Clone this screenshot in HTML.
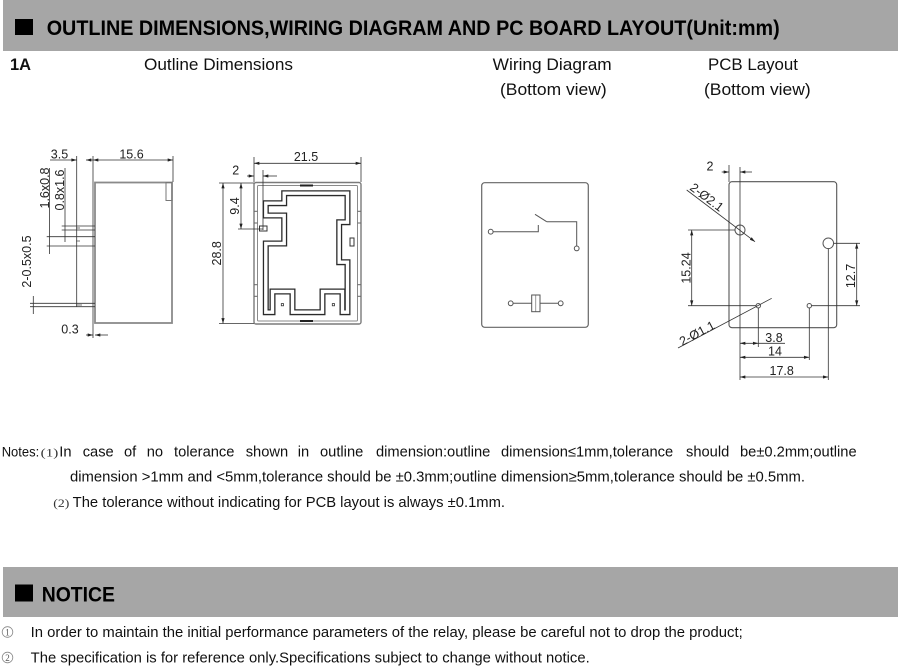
<!DOCTYPE html>
<html><head><meta charset="utf-8"><style>
html,body{margin:0;padding:0;background:#fff;}
svg{display:block;}
text{font-family:"Liberation Sans","Noto Sans CJK SC",sans-serif;fill:#111;}
.d{font-size:12.5px;fill:#222;}
.n{font-size:14.7px;}
.c{font-family:"Liberation Serif","Noto Serif CJK SC",serif;font-size:12px;fill:#333;}
</style></head><body>
<svg width="900" height="666" viewBox="0 0 900 666" xmlns="http://www.w3.org/2000/svg">
<defs>
<marker id="ar" viewBox="0 0 10 6" refX="10" refY="3" markerWidth="6" markerHeight="3.2" markerUnits="userSpaceOnUse" orient="auto-start-reverse"><path d="M0,0 L10,3 L0,6 z" fill="#222"/></marker>
</defs>
<rect x="0" y="0" width="900" height="666" fill="#fff"/>

<!-- Header bar -->
<rect x="3" y="0" width="895" height="51" fill="#a6a6a6"/>
<rect x="15" y="19" width="18" height="16" fill="#000"/>
<text x="46.7" y="35" font-size="21" font-weight="bold" textLength="733" lengthAdjust="spacingAndGlyphs" style="fill:#000">OUTLINE DIMENSIONS,WIRING DIAGRAM AND PC BOARD LAYOUT(Unit:mm)</text>

<text x="10" y="70" font-size="17" font-weight="bold" textLength="21" lengthAdjust="spacingAndGlyphs">1A</text>
<text x="144" y="70" font-size="17" textLength="149" lengthAdjust="spacingAndGlyphs">Outline Dimensions</text>
<text x="492.7" y="70" font-size="17" textLength="119" lengthAdjust="spacingAndGlyphs">Wiring Diagram</text>
<text x="708" y="70" font-size="17" textLength="90" lengthAdjust="spacingAndGlyphs">PCB Layout</text>
<text x="500" y="95" font-size="17" textLength="106.7" lengthAdjust="spacingAndGlyphs">(Bottom view)</text>
<text x="704" y="95" font-size="17" textLength="106.7" lengthAdjust="spacingAndGlyphs">(Bottom view)</text>

<!-- ===== Drawing 1: side view ===== -->
<g fill="none">
  <rect x="95" y="182.5" width="77" height="140.5" stroke="#8a8a8a" stroke-width="1.8"/>
  <rect x="166" y="182.5" width="6" height="18" stroke="#777" stroke-width="1"/>
  <g stroke="#333" stroke-width="0.8">
    <line x1="93" y1="156" x2="93" y2="338"/>
    <line x1="76.7" y1="156" x2="76.7" y2="307"/>
    <line x1="173" y1="156" x2="173" y2="182"/>
    <line x1="50" y1="160" x2="76.7" y2="160" marker-end="url(#ar)"/>
    <line x1="86" y1="160" x2="93" y2="160" marker-start="url(#ar)"/>
    <line x1="93" y1="160" x2="173" y2="160" marker-start="url(#ar)" marker-end="url(#ar)"/>
    <line x1="61.7" y1="226" x2="95" y2="226"/>
    <line x1="61.7" y1="230" x2="95" y2="230"/>
    <line x1="46.7" y1="236.7" x2="95" y2="236.7"/>
    <line x1="46.7" y1="246" x2="95" y2="246"/>
    <line x1="30" y1="303.3" x2="95" y2="303.3"/>
    <line x1="30" y1="306.7" x2="95" y2="306.7"/>
    <line x1="65" y1="168" x2="65" y2="242" />
    <line x1="49.5" y1="168" x2="49.5" y2="254"/>
    <line x1="33.3" y1="296" x2="33.3" y2="314"/>
    <line x1="86" y1="335" x2="93" y2="335" marker-end="url(#ar)"/>
    <line x1="108" y1="335" x2="95" y2="335" marker-end="url(#ar)"/>
  </g>
  <g stroke="#555" stroke-width="0.8">
    <line x1="76" y1="228" x2="80" y2="228"/>
    <line x1="76" y1="241" x2="80" y2="241"/>
    <line x1="76" y1="305" x2="82" y2="305"/>
  </g>
</g>
<text class="d" x="59.5" y="158.3" text-anchor="middle">3.5</text>
<text class="d" x="131.5" y="158.3" text-anchor="middle">15.6</text>
<text class="d" x="70" y="333.5" text-anchor="middle">0.3</text>
<text class="d" transform="translate(44.5,188) rotate(-90)" text-anchor="middle" dy="4.5">1.6x0.8</text>
<text class="d" transform="translate(59.5,190) rotate(-90)" text-anchor="middle" dy="4.5">0.8x1.6</text>
<text class="d" transform="translate(26.7,261.5) rotate(-90)" text-anchor="middle" dy="4.5">2-0.5x0.5</text>

<!-- ===== Drawing 2: bottom outline ===== -->
<g fill="none">
  <rect x="254" y="182.5" width="107" height="141.5" rx="2" stroke="#7a7a7a" stroke-width="1.4"/>
  <rect x="257.5" y="185.5" width="100" height="135.5" rx="1" stroke="#8a8a8a" stroke-width="1"/>
  <path d="M284.2,193.2 H347.5 V222.2 H339.2 V262.2 H347.5 V312.2 H342.5 V291.5 H322.5 V312.2 H292.5 V291.5 H272.5 V312.2 H265.8 V243.5 H284.2 V215.5 H265.8 V203.2 H284.2 Z" stroke="#2a2a2a" stroke-width="6"/>
  <path d="M284.2,193.2 H347.5 V222.2 H339.2 V262.2 H347.5 V312.2 H342.5 V291.5 H322.5 V312.2 H292.5 V291.5 H272.5 V312.2 H265.8 V243.5 H284.2 V215.5 H265.8 V203.2 H284.2 Z" stroke="#fff" stroke-width="3.4"/>
  <g stroke="#222" stroke-width="2">
    <line x1="300" y1="185.5" x2="313" y2="185.5"/>
    <line x1="300" y1="321" x2="313" y2="321"/>
  </g>
  <g stroke="#666" stroke-width="1">
    <line x1="254" y1="211.3" x2="257.5" y2="211.3"/>
    <line x1="254" y1="223" x2="257.5" y2="223"/>
    <line x1="254" y1="284.7" x2="257.5" y2="284.7"/>
    <line x1="254" y1="296.3" x2="257.5" y2="296.3"/>
    <line x1="357.5" y1="211.3" x2="361" y2="211.3"/>
    <line x1="357.5" y1="223" x2="361" y2="223"/>
    <line x1="357.5" y1="284.7" x2="361" y2="284.7"/>
    <line x1="357.5" y1="296.3" x2="361" y2="296.3"/>
  </g>
  <rect x="259.5" y="226" width="7.5" height="5" stroke="#333" stroke-width="1" fill="#fff"/>
  <rect x="350" y="238" width="4" height="8" stroke="#333" stroke-width="1"/>
  <rect x="281.3" y="303.6" width="2.2" height="2.2" stroke="#333" stroke-width="0.8"/>
  <rect x="332.3" y="303.6" width="2.2" height="2.2" stroke="#333" stroke-width="0.8"/>
  <g stroke="#333" stroke-width="0.8">
    <line x1="254" y1="157" x2="254" y2="182"/>
    <line x1="361" y1="157" x2="361" y2="182"/>
    <line x1="254" y1="163.3" x2="361" y2="163.3" marker-start="url(#ar)" marker-end="url(#ar)"/>
    <line x1="263" y1="170" x2="263" y2="230"/>
    <line x1="247" y1="176" x2="254" y2="176" marker-end="url(#ar)"/>
    <line x1="277" y1="176" x2="263" y2="176" marker-end="url(#ar)"/>
    <line x1="219" y1="183" x2="254" y2="183"/>
    <line x1="219" y1="323.5" x2="254" y2="323.5"/>
    <line x1="238" y1="229" x2="263" y2="229"/>
    <line x1="241" y1="183" x2="241" y2="229" marker-start="url(#ar)" marker-end="url(#ar)"/>
    <line x1="223" y1="183" x2="223" y2="323.5" marker-start="url(#ar)" marker-end="url(#ar)"/>
  </g>
</g>
<text class="d" x="306" y="161" text-anchor="middle">21.5</text>
<text class="d" x="235.7" y="174.5" text-anchor="middle">2</text>
<text class="d" transform="translate(234.5,206) rotate(-90)" text-anchor="middle" dy="4.5">9.4</text>
<text class="d" transform="translate(216.7,253.3) rotate(-90)" text-anchor="middle" dy="4.5">28.8</text>

<!-- ===== Wiring diagram ===== -->
<g fill="none" stroke="#555" stroke-width="1">
  <rect x="481.7" y="182.7" width="106.6" height="144.6" rx="3" stroke="#666" stroke-width="1.2"/>
  <circle cx="490.7" cy="231.7" r="2.4" fill="#fff"/>
  <polyline points="493.1,231.7 538.3,231.7 538.3,225"/>
  <line x1="535" y1="214.3" x2="546.7" y2="221.7"/>
  <polyline points="546.7,221.7 576.7,221.7 576.7,246"/>
  <circle cx="576.7" cy="248.4" r="2.4" fill="#fff"/>
  <circle cx="510.7" cy="303.3" r="2.4" fill="#fff"/>
  <line x1="513.1" y1="303.3" x2="531.7" y2="303.3"/>
  <rect x="531.7" y="295" width="8.3" height="16.7"/>
  <line x1="535.8" y1="295" x2="535.8" y2="311.7" stroke-width="0.6"/>
  <line x1="540" y1="303.3" x2="558.3" y2="303.3"/>
  <circle cx="560.7" cy="303.3" r="2.4" fill="#fff"/>
</g>

<!-- ===== PCB layout ===== -->
<g fill="none">
  <rect x="729" y="181.7" width="107.7" height="146" rx="3" stroke="#555" stroke-width="1.1"/>
  <circle cx="740" cy="230" r="5" stroke="#555" stroke-width="1"/>
  <circle cx="828.3" cy="243.3" r="5.3" stroke="#555" stroke-width="1"/>
  <circle cx="758.3" cy="305.7" r="2.2" stroke="#555" stroke-width="1"/>
  <circle cx="809.3" cy="305.7" r="2.2" stroke="#555" stroke-width="1"/>
  <g stroke="#333" stroke-width="0.8">
    <line x1="740" y1="167" x2="740" y2="380"/>
    <line x1="729" y1="165" x2="729" y2="182"/>
    <line x1="721.7" y1="172" x2="729" y2="172" marker-end="url(#ar)"/>
    <line x1="752" y1="172" x2="740" y2="172" marker-end="url(#ar)"/>
    <line x1="686.7" y1="190" x2="755" y2="241.7" marker-end="url(#ar)"/>
    <line x1="678" y1="348" x2="771.7" y2="298.3"/>
    <line x1="688" y1="230" x2="735" y2="230"/>
    <line x1="688" y1="305.7" x2="756" y2="305.7"/>
    <line x1="691.7" y1="230" x2="691.7" y2="305.7" marker-start="url(#ar)" marker-end="url(#ar)"/>
    <line x1="833.6" y1="243.3" x2="860" y2="243.3"/>
    <line x1="811.5" y1="305.7" x2="860" y2="305.7"/>
    <line x1="856.7" y1="243.3" x2="856.7" y2="305.7" marker-start="url(#ar)" marker-end="url(#ar)"/>
    <line x1="758.3" y1="308" x2="758.3" y2="347"/>
    <line x1="809.3" y1="308" x2="809.3" y2="360"/>
    <line x1="828.3" y1="248.6" x2="828.3" y2="380"/>
    <line x1="740" y1="343.3" x2="758.3" y2="343.3" marker-start="url(#ar)" marker-end="url(#ar)"/>
    <line x1="758.3" y1="343.3" x2="785" y2="343.3"/>
    <line x1="740" y1="357.3" x2="809.3" y2="357.3" marker-start="url(#ar)" marker-end="url(#ar)"/>
    <line x1="740" y1="377" x2="828.3" y2="377" marker-start="url(#ar)" marker-end="url(#ar)"/>
  </g>
</g>
<text class="d" x="710" y="170.5" text-anchor="middle">2</text>
<text class="d" transform="translate(707,197) rotate(37)" text-anchor="middle" dy="4.5">2-Ø2.1</text>
<text class="d" transform="translate(697,333) rotate(-28)" text-anchor="middle" dy="4.5">2-Ø1.1</text>
<text class="d" transform="translate(686,268) rotate(-90)" text-anchor="middle" dy="4.5">15.24</text>
<text class="d" transform="translate(850.5,276) rotate(-90)" text-anchor="middle" dy="4.5">12.7</text>
<text class="d" x="774" y="341.8" text-anchor="middle">3.8</text>
<text class="d" x="775" y="355.5" text-anchor="middle">14</text>
<text class="d" x="781.7" y="375" text-anchor="middle">17.8</text>

<!-- ===== Notes ===== -->
<text x="1.7" y="456.5" font-size="14" textLength="37.5" lengthAdjust="spacingAndGlyphs">Notes:</text>
<text class="c" x="40.7" y="456.5" textLength="17.6" lengthAdjust="spacingAndGlyphs">(1)</text>
<text class="n" x="59.3" y="456.5">In</text>
<text class="n" x="82.7" y="456.5">case</text>
<text class="n" x="124" y="456.5">of</text>
<text class="n" x="146.7" y="456.5">no</text>
<text class="n" x="174" y="456.5">tolerance</text>
<text class="n" x="245.7" y="456.5">shown</text>
<text class="n" x="297.7" y="456.5">in</text>
<text class="n" x="320" y="456.5">outline</text>
<text class="n" x="376" y="456.5">dimension:outline</text>
<text class="n" x="501" y="456.5">dimension≤1mm,tolerance</text>
<text class="n" x="686" y="456.5">should</text>
<text class="n" x="740" y="456.5">be±0.2mm;outline</text>
<text class="n" x="70" y="481.5" textLength="735" lengthAdjust="spacingAndGlyphs">dimension &gt;1mm and &lt;5mm,tolerance should be ±0.3mm;outline dimension≥5mm,tolerance should be ±0.5mm.</text>
<text class="c" x="53.3" y="507" textLength="16" lengthAdjust="spacingAndGlyphs">(2)</text>
<text class="n" x="72.7" y="507" textLength="432.3" lengthAdjust="spacingAndGlyphs">The tolerance without indicating for PCB layout is always ±0.1mm.</text>

<!-- ===== Notice ===== -->
<rect x="3" y="567" width="895" height="50" fill="#a6a6a6"/>
<rect x="15" y="584.5" width="18" height="17" fill="#000"/>
<text x="41.7" y="601.7" font-size="21" font-weight="bold" textLength="73.3" lengthAdjust="spacingAndGlyphs" style="fill:#000">NOTICE</text>

<circle cx="7.5" cy="632" r="5.3" fill="none" stroke="#888" stroke-width="0.8"/>
<text x="7.5" y="635.5" font-size="9" text-anchor="middle" style="fill:#555;font-family:'Liberation Serif',serif">1</text>
<text class="n" x="30.7" y="637" textLength="712" lengthAdjust="spacingAndGlyphs">In order to maintain the initial performance parameters of the relay, please be careful not to drop the product;</text>
<circle cx="7.5" cy="657.5" r="5.3" fill="none" stroke="#888" stroke-width="0.8"/>
<text x="7.5" y="661" font-size="9" text-anchor="middle" style="fill:#555;font-family:'Liberation Serif',serif">2</text>
<text class="n" x="30.7" y="662.5" textLength="559" lengthAdjust="spacingAndGlyphs">The specification is for reference only.Specifications subject to change without notice.</text>
</svg>
</body></html>
